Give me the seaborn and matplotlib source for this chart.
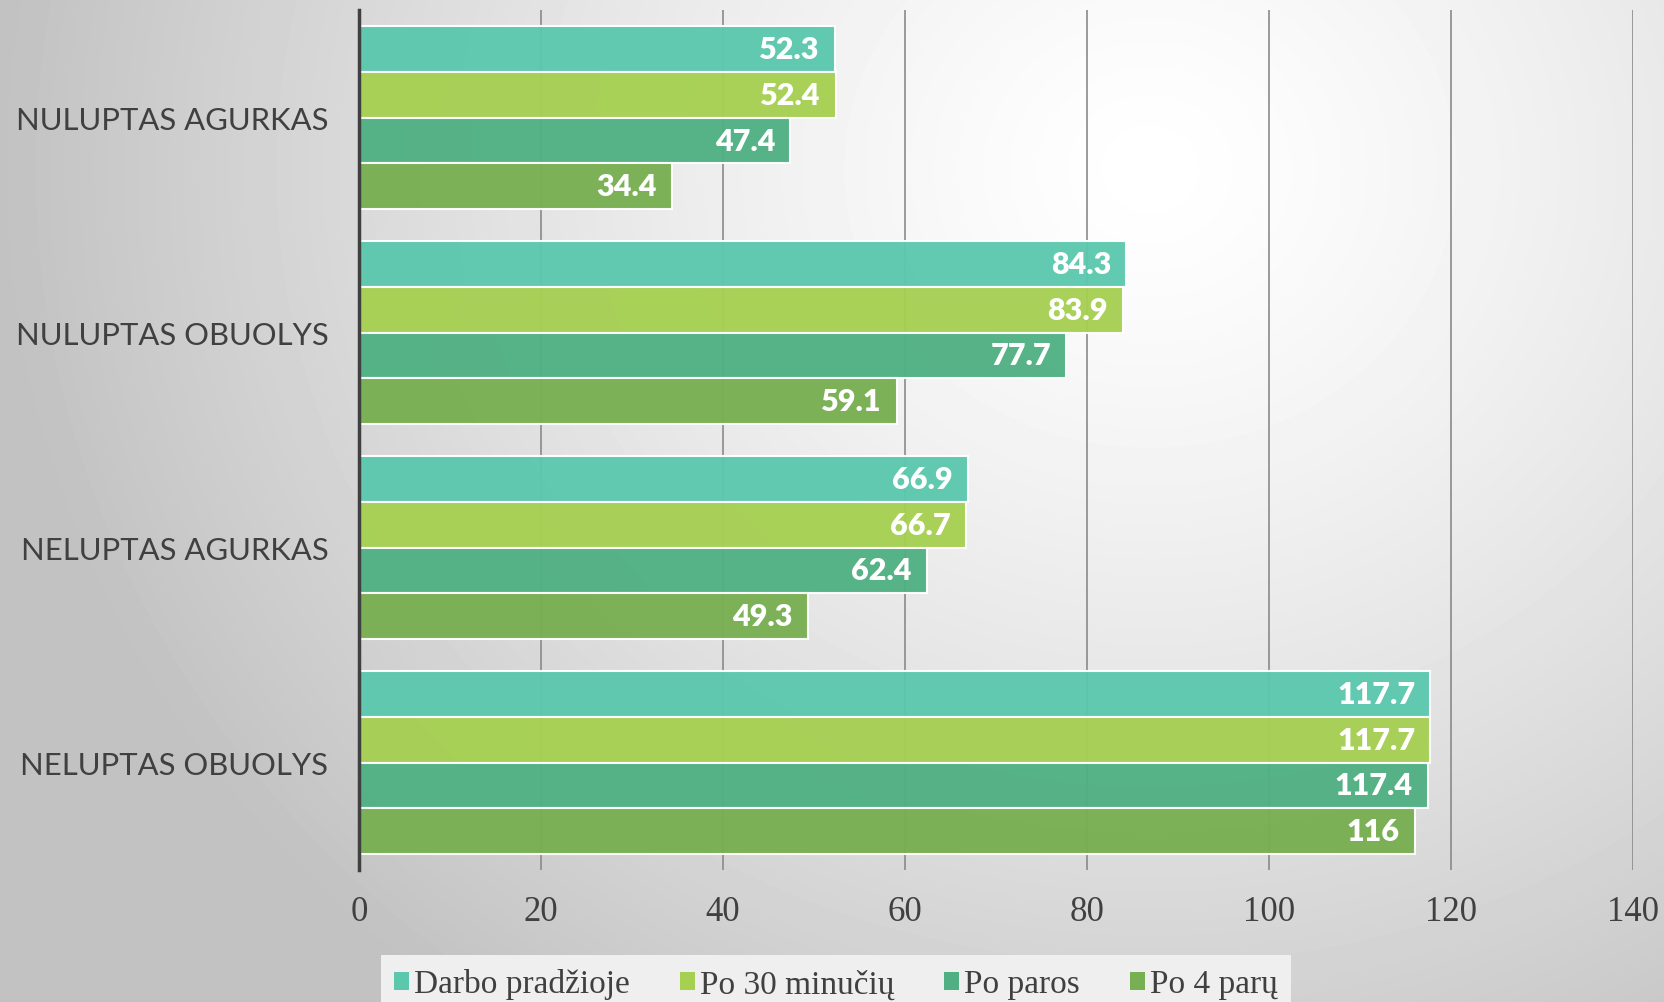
import numpy as np
import pandas as pd
import matplotlib.pyplot as plt
import seaborn as sns
from matplotlib.patches import Patch

# data
categories = ['NULUPTAS AGURKAS', 'NULUPTAS OBUOLYS', 'NELUPTAS AGURKAS', 'NELUPTAS OBUOLYS']
series = ['Darbo pradžioje', 'Po 30 minučių', 'Po paros', 'Po 4 parų']
darbo_pradzioje = [52.3, 84.3, 66.9, 117.7]
po_30_min = [52.4, 83.9, 66.7, 117.7]
po_paros = [47.4, 77.7, 62.4, 117.4]
po_4_paru = [34.4, 59.1, 49.3, 116]
colors = ['#5BC8AD', '#A6D052', '#50B083', '#78AF52']

rows = []
for name, vals in zip(series, [darbo_pradzioje, po_30_min, po_paros, po_4_paru]):
    for cat, v in zip(categories, vals):
        rows.append({'cat': cat, 'series': name, 'value': v})
df = pd.DataFrame(rows)

sns.set_style('white')
fig = plt.figure(figsize=(16.65, 10.03), dpi=100)

# radial gray background
bg = fig.add_axes([0, 0, 1, 1], zorder=-5)
yy, xx = np.mgrid[0:1003, 0:1665]
d = np.sqrt((xx - 1150) ** 2 + ((yy - 170) * 1.1) ** 2) / 1150
v = 1 - 0.24 * np.clip(d, 0, 1) ** 1.3
bg.imshow(v, cmap='gray', vmin=0, vmax=1, aspect='auto', extent=[0, 1, 0, 1])
bg.axis('off')

ax = fig.add_axes([0.2156, 0.1316, 0.981 - 0.2156, 0.989 - 0.1316])
ax.patch.set_alpha(0)
sns.barplot(data=df, y='cat', x='value', hue='series', order=categories,
            hue_order=series, palette=colors, saturation=1, orient='h',
            width=0.855, edgecolor=(1, 1, 1, 0.6), linewidth=1.5, alpha=0.96,
            ax=ax, zorder=3)

for cont in ax.containers:
    anns = ax.bar_label(cont, fmt='{:g}', padding=-11, color='white',
                        fontsize=22, fontweight='heavy', family='Lato')
    for a in anns:
        a.set_ha('right')

ax.set_xlim(0, 140)
ax.set_xticks(range(0, 141, 20))
ax.xaxis.grid(True, color='#8a8a8a', linewidth=1.2, zorder=1)
ax.set_axisbelow(True)
ax.set_xlabel('')
ax.set_ylabel('')
for s in ['top', 'right', 'bottom']:
    ax.spines[s].set_visible(False)
ax.spines['left'].set_color('#404040')
ax.spines['left'].set_linewidth(2.5)
ax.spines['left'].set_zorder(5)
ax.tick_params(axis='x', length=0, pad=18, labelsize=25, labelcolor='#404040')
ax.tick_params(axis='y', length=0, pad=22, labelsize=22.3, labelcolor='#404040')
for t in ax.get_xticklabels():
    t.set_family('Liberation Serif')
for t in ax.get_yticklabels():
    t.set_family('Lato')

ax.get_legend().remove()
handles = [Patch(facecolor=c, edgecolor='none') for c in colors]
leg = fig.legend(handles, series, loc='center', bbox_to_anchor=(0.502, 0.018),
                 ncol=4, frameon=True, fancybox=False, framealpha=1,
                 facecolor='#efefef', edgecolor='none',
                 prop={'family': 'Liberation Serif', 'size': 24},
                 handlelength=0.45, handleheight=0.45, handletextpad=0.15,
                 columnspacing=1.5, borderpad=0.4)
for t in leg.get_texts():
    t.set_color('#404040')

fig.savefig('out.png', dpi=100)
